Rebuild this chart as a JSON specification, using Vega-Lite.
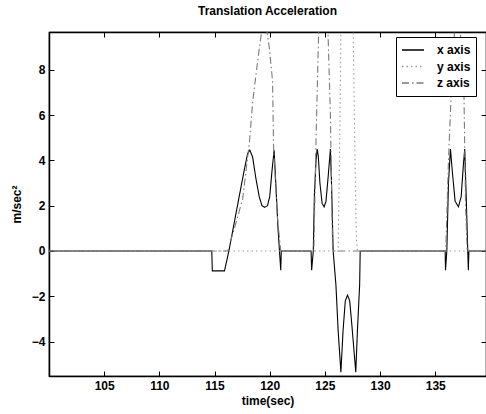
{
  "$schema": "https://vega.github.io/schema/vega-lite/v6.json",
  "autosize": "none",
  "width": 437,
  "height": 344,
  "padding": {"left": 49, "top": 32, "right": 0, "bottom": 38},
  "background": "white",
  "title": {"text": "Translation Acceleration", "fontSize": 12, "font": "Liberation Sans", "fontWeight": "bold", "offset": 14, "color": "black"},
  "config": {
    "view": {"stroke": "black", "strokeWidth": 1.2},
    "axis": {"labelFont": "Liberation Sans", "titleFont": "Liberation Sans", "labelFontSize": 12, "titleFontSize": 12, "labelColor": "black", "titleColor": "black", "labelFontWeight": "bold", "titleFontWeight": "bold", "domainColor": "black", "tickColor": "black", "grid": false}
  },
  "data": {"values": [
    {"t":100,"v":0,"s":"x axis"},{"t":114.75,"v":0,"s":"x axis"},{"t":114.8,"v":-0.88,"s":"x axis"},{"t":115.9,"v":-0.88,"s":"x axis"},{"t":116.3,"v":0,"s":"x axis"},{"t":117.7,"v":3.6,"s":"x axis"},{"t":118.0,"v":4.3,"s":"x axis"},{"t":118.2,"v":4.45,"s":"x axis"},{"t":118.45,"v":4.15,"s":"x axis"},{"t":118.75,"v":3.2,"s":"x axis"},{"t":119.05,"v":2.4,"s":"x axis"},{"t":119.3,"v":2.0,"s":"x axis"},{"t":119.55,"v":1.93,"s":"x axis"},{"t":119.8,"v":2.0,"s":"x axis"},{"t":120.0,"v":2.4,"s":"x axis"},{"t":120.2,"v":3.5,"s":"x axis"},{"t":120.4,"v":4.45,"s":"x axis"},{"t":120.55,"v":3.0,"s":"x axis"},{"t":120.75,"v":1.0,"s":"x axis"},{"t":121.0,"v":-0.85,"s":"x axis"},{"t":121.05,"v":0,"s":"x axis"},{"t":123.75,"v":0,"s":"x axis"},{"t":123.8,"v":-0.85,"s":"x axis"},{"t":123.95,"v":0,"s":"x axis"},{"t":124.05,"v":2.5,"s":"x axis"},{"t":124.2,"v":4.0,"s":"x axis"},{"t":124.3,"v":4.5,"s":"x axis"},{"t":124.4,"v":4.2,"s":"x axis"},{"t":124.55,"v":3.0,"s":"x axis"},{"t":124.75,"v":2.1,"s":"x axis"},{"t":124.93,"v":1.95,"s":"x axis"},{"t":125.1,"v":2.2,"s":"x axis"},{"t":125.3,"v":3.3,"s":"x axis"},{"t":125.5,"v":4.5,"s":"x axis"},{"t":125.6,"v":3.0,"s":"x axis"},{"t":125.75,"v":0,"s":"x axis"},{"t":126.0,"v":-1.5,"s":"x axis"},{"t":126.2,"v":-3.5,"s":"x axis"},{"t":126.45,"v":-5.35,"s":"x axis"},{"t":126.65,"v":-3.5,"s":"x axis"},{"t":126.85,"v":-2.2,"s":"x axis"},{"t":127.05,"v":-1.95,"s":"x axis"},{"t":127.25,"v":-2.2,"s":"x axis"},{"t":127.45,"v":-3.3,"s":"x axis"},{"t":127.8,"v":-5.35,"s":"x axis"},{"t":127.95,"v":-3.5,"s":"x axis"},{"t":128.15,"v":-1.5,"s":"x axis"},{"t":128.2,"v":0,"s":"x axis"},{"t":135.9,"v":0,"s":"x axis"},{"t":135.93,"v":-0.85,"s":"x axis"},{"t":136.05,"v":0,"s":"x axis"},{"t":136.2,"v":3.0,"s":"x axis"},{"t":136.38,"v":4.5,"s":"x axis"},{"t":136.55,"v":3.5,"s":"x axis"},{"t":136.8,"v":2.2,"s":"x axis"},{"t":137.1,"v":1.95,"s":"x axis"},{"t":137.35,"v":2.4,"s":"x axis"},{"t":137.55,"v":3.8,"s":"x axis"},{"t":137.67,"v":4.5,"s":"x axis"},{"t":137.8,"v":2.5,"s":"x axis"},{"t":138.0,"v":-0.85,"s":"x axis"},{"t":138.05,"v":0,"s":"x axis"},{"t":139.6,"v":0,"s":"x axis"},
    {"t":100,"v":0,"s":"y axis"},{"t":126.2,"v":0,"s":"y axis"},{"t":126.35,"v":5,"s":"y axis"},{"t":126.5,"v":12,"s":"y axis"},{"t":127.5,"v":12,"s":"y axis"},{"t":127.7,"v":5,"s":"y axis"},{"t":127.85,"v":0.6,"s":"y axis"},{"t":127.95,"v":0,"s":"y axis"},{"t":139.6,"v":0,"s":"y axis"},
    {"t":100,"v":0,"s":"z axis"},{"t":116.2,"v":0,"s":"z axis"},{"t":116.8,"v":1.0,"s":"z axis"},{"t":117.55,"v":2.3,"s":"z axis"},{"t":118.16,"v":4.8,"s":"z axis"},{"t":118.46,"v":6.6,"s":"z axis"},{"t":118.76,"v":7.8,"s":"z axis"},{"t":119.06,"v":8.95,"s":"z axis"},{"t":119.5,"v":10.5,"s":"z axis"},{"t":119.96,"v":9.0,"s":"z axis"},{"t":120.26,"v":7.5,"s":"z axis"},{"t":120.35,"v":4.6,"s":"z axis"},{"t":120.7,"v":1.5,"s":"z axis"},{"t":121.0,"v":0,"s":"z axis"},{"t":124.0,"v":0,"s":"z axis"},{"t":124.2,"v":5,"s":"z axis"},{"t":124.5,"v":11,"s":"z axis"},{"t":125.2,"v":11,"s":"z axis"},{"t":125.5,"v":6,"s":"z axis"},{"t":125.7,"v":0,"s":"z axis"},{"t":135.95,"v":0,"s":"z axis"},{"t":136.2,"v":4,"s":"z axis"},{"t":136.45,"v":7,"s":"z axis"},{"t":137.0,"v":12,"s":"z axis"},{"t":137.6,"v":7,"s":"z axis"},{"t":137.75,"v":2,"s":"z axis"},{"t":137.9,"v":0,"s":"z axis"},{"t":139.6,"v":0,"s":"z axis"}
  ]},
  "resolve": {"axis": {"x": "independent", "y": "independent"}},
  "layer": [
    {
      "mark": {"type": "line", "clip": true, "strokeWidth": 1.1},
      "encoding": {
        "x": {"field": "t", "type": "quantitative", "scale": {"domain": [100, 139.6], "nice": false, "zero": false},
              "axis": {"orient": "bottom", "values": [105,110,115,120,125,130,135], "tickSize": -5, "labelPadding": 9, "title": "time(sec)", "titlePadding": 4, "domainWidth": 1.5}},
        "y": {"field": "v", "type": "quantitative", "scale": {"domain": [-5.52, 9.67], "nice": false, "zero": false},
              "axis": {"orient": "left", "values": [-4,-2,0,2,4,6,8], "tickSize": -5, "labelPadding": 9, "title": "m/sec²", "titlePadding": 8, "domainWidth": 1.5}},
        "color": {"field": "s", "type": "nominal", "scale": {"domain": ["x axis","y axis","z axis"], "range": ["#000000","#9a9a9a","#7a7a7a"]},
                  "legend": {"orient": "none", "legendX": 347, "legendY": 5, "title": null, "fillColor": "white", "strokeColor": "black", "padding": 5, "symbolType": "stroke", "symbolSize": 484, "symbolStrokeWidth": 1.3, "labelFont": "Liberation Sans", "labelFontSize": 12, "labelFontWeight": "bold", "labelColor": "black", "labelOffset": 12, "clipHeight": 16, "rowPadding": 0.5}},
        "strokeDash": {"field": "s", "type": "nominal", "scale": {"domain": ["x axis","y axis","z axis"], "range": [[1,0],[1.5,3],[7,3,1.5,3]]}, "legend": null},
        "order": {"field": "t", "type": "quantitative"}
      }
    },
    {
      "mark": {"type": "line", "opacity": 0, "clip": true},
      "encoding": {
        "x": {"field": "t", "type": "quantitative", "axis": {"orient": "top", "values": [105,110,115,120,125,130,135], "tickSize": -5, "labels": false, "title": null, "domainWidth": 1.5}},
        "y": {"field": "v", "type": "quantitative", "axis": {"orient": "right", "values": [-4,-2,0,2,4,6,8], "tickSize": -5, "labels": false, "title": null}},
        "detail": {"field": "s"}
      }
    }
  ]
}
